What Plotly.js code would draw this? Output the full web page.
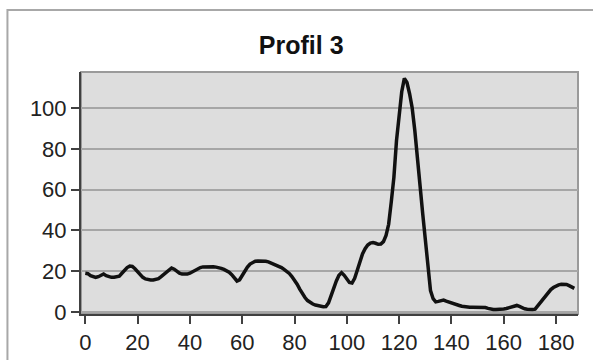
<!DOCTYPE html>
<html>
<head>
<meta charset="utf-8">
<script src="https://cdn.plot.ly/plotly-3.0.1.min.js"></script>
<style>
html,body{margin:0;padding:0;background:#ffffff;}
#chart{width:593px;height:360px;}
</style>
</head>
<body>
<div id="chart"></div>
<script>
const positions = [
  0,1,2,3,4,5,6,7,8,9,10,11,12,13,14,15,16,17,18,19,
  20,21,22,23,24,25,26,27,28,29,30,31,32,33,34,35,36,37,38,39,
  40,41,42,43,44,45,46,47,48,49,50,51,52,53,54,55,56,57,58,59,
  60,61,62,63,64,65,66,67,68,69,70,71,72,73,74,75,76,77,78,79,
  80,81,82,83,84,85,86,87,88,89,90,91,92,93,94,95,96,97,98,99,
  100,101,102,103,104,105,106,107,108,109,110,111,112,113,114,115,116,117,118,119,
  120,121,122,123,124,125,126,127,128,129,130,131,132,133,134,135,136,137,138,139,
  140,141,142,143,144,145,146,147,148,149,150,151,152,153,154,155,156,157,158,159,
  160,161,162,163,164,165,166,167,168,169,170,171,172,173,174,175,176,177,178,179,
  180,181,182,183,184,185,186,187
];
const values = [
  19.0,18.8,17.8,17.2,17.0,17.3,18.0,18.6,17.8,17.2,17.0,17.0,17.2,17.6,19.0,20.5,21.8,22.5,22.3,21.2,
  19.8,18.3,17.0,16.2,15.8,15.7,15.7,15.9,16.3,17.3,18.5,19.7,20.8,21.6,21.0,19.9,19.0,18.6,18.5,18.6,
  19.0,19.7,20.5,21.3,21.8,22.1,22.2,22.3,22.3,22.2,22.0,21.8,21.4,20.9,20.3,19.5,18.3,16.5,15.2,15.8,
  18.0,20.2,22.0,23.5,24.4,24.9,25.0,25.1,25.0,24.9,24.6,24.1,23.6,23.2,22.6,21.8,20.9,20.0,18.9,17.4,
  15.7,13.6,11.2,9.0,7.1,5.6,4.6,3.9,3.4,3.0,2.7,2.6,2.7,4.5,8.0,11.8,15.2,18.0,19.3,18.0,
  16.0,14.5,14.2,16.5,20.5,25.0,28.5,31.0,32.8,33.8,34.0,33.7,33.2,33.3,34.5,37.5,43.0,54.0,66.0,84.0,
  98.0,108.0,114.5,112.5,107.0,100.0,89.0,73.0,62.0,48.5,35.5,23.0,10.5,6.5,5.0,5.2,5.6,5.8,5.3,4.8,
  4.4,4.0,3.6,3.2,2.8,2.5,2.3,2.3,2.3,2.3,2.3,2.3,2.3,2.2,1.8,1.4,1.2,1.2,1.2,1.3,
  1.5,1.7,2.0,2.5,3.0,3.2,2.7,2.0,1.6,1.4,1.2,1.2,1.4,3.0,5.0,6.8,8.3,9.8,11.0,12.0,
  12.8,13.3,13.6,13.7,13.5,12.9,12.1,11.6
];
const xTicks = [0,20,40,60,80,100,120,140,160,180];
const yTicks = [0,20,40,60,80,100];
const chartTitle = "Profil 3";

const trace = {
  x: positions,
  y: values,
  type: "scatter",
  mode: "lines",
  line: {color: "#111111", width: 3.5},
  hoverinfo: "skip"
};

const tickFont = {family: "Liberation Sans, Arial, sans-serif", size: 22, color: "#222222"};

const layout = {
  width: 593,
  height: 360,
  margin: {l: 81, r: 15, t: 72, b: 46},
  paper_bgcolor: "#ffffff",
  plot_bgcolor: "#dddddd",
  showlegend: false,
  title: {
    text: "<b>" + chartTitle + "</b>",
    font: {family: "Liberation Sans, Arial, sans-serif", size: 25, color: "#111111"},
    x: 0.508, xanchor: "center", xref: "container",
    y: 0.875, yanchor: "middle", yref: "container"
  },
  xaxis: {
    range: [-1.64, 188.4],
    tickvals: xTicks,
    ticktext: xTicks.map(String),
    ticks: "outside", ticklen: 8, tickwidth: 2, tickcolor: "#404040",
    showline: true, linecolor: "#404040", linewidth: 2,
    showgrid: false, zeroline: false,
    tickfont: tickFont
  },
  yaxis: {
    range: [-0.98, 117.65],
    tickvals: yTicks,
    ticktext: yTicks.map(String),
    ticks: "outside", ticklen: 8, tickwidth: 2, tickcolor: "#404040",
    showline: true, linecolor: "#404040", linewidth: 2,
    showgrid: true, gridcolor: "#a6a6a6", gridwidth: 2,
    zeroline: false,
    tickfont: tickFont
  },
  shapes: [
    {type: "rect", xref: "paper", yref: "paper", x0: 0, x1: 1, y0: 0, y1: 1,
     line: {color: "#9a9a9a", width: 2}, fillcolor: "rgba(0,0,0,0)", layer: "below"},
    {type: "rect", xref: "paper", yref: "paper", x0: -0.148, x1: 1.5, y0: -0.5, y1: 1.256,
     line: {color: "#a8a8a8", width: 2}, fillcolor: "rgba(0,0,0,0)", layer: "below"}
  ]
};

Plotly.newPlot("chart", [trace], layout, {staticPlot: true, displayModeBar: false});
</script>
</body>
</html>
